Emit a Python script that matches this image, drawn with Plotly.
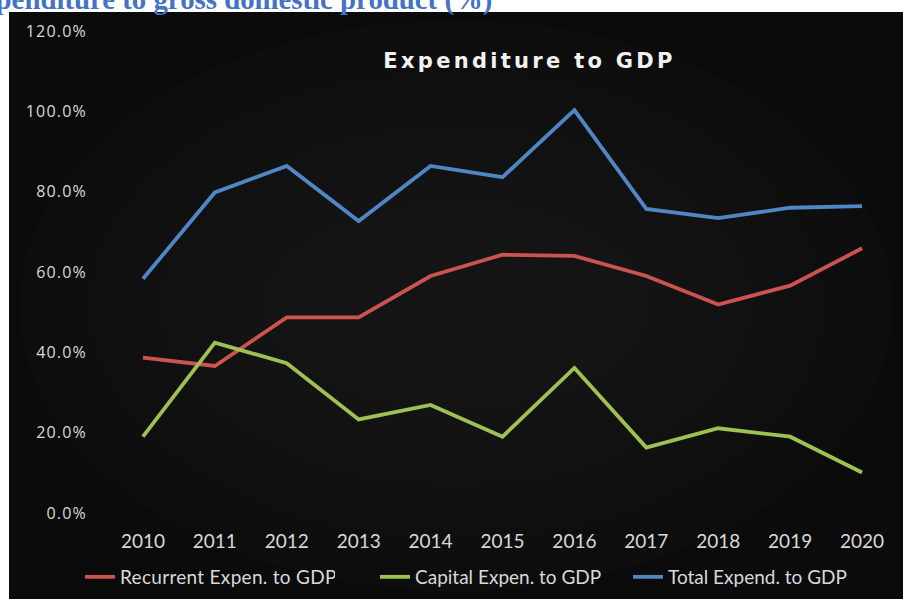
import plotly.graph_objects as go

# ---- data ----
years = ["2010", "2011", "2012", "2013", "2014", "2015", "2016", "2017", "2018", "2019", "2020"]
recurrent = [38.7, 36.6, 48.7, 48.7, 59.0, 64.3, 64.0, 59.0, 51.9, 56.6, 65.9]
capital = [19.0, 42.4, 37.3, 23.3, 26.9, 19.0, 36.1, 16.3, 21.1, 19.0, 10.1]
total = [58.3, 79.8, 86.4, 72.7, 86.4, 83.6, 100.3, 75.7, 73.4, 76.0, 76.4]
y_ticks = [0, 20, 40, 60, 80, 100, 120]
y_tick_text = ["0.0%", "20.0%", "40.0%", "60.0%", "80.0%", "100.0%", "120.0%"]

# ---- page geometry (pixels) ----
W, H = 903, 599
L, R, T, B = 107, 5, 31, 86
pw, ph = W - L - R, H - T - B


def px_x(x):
    return (x - L) / pw


def px_y(y):
    return (H - B - y) / ph


TICK_COLOR = "#D9D9D9"
CHART_TITLE = "Expenditure to GDP"

fig = go.Figure()
fig.add_trace(go.Scatter(x=years, y=recurrent, mode="lines", name="Recurrent Expen. to GDP",
                         line=dict(color="#CD5350", width=3.8), legend="legend"))
fig.add_trace(go.Scatter(x=years, y=capital, mode="lines", name="Capital Expen. to GDP",
                         line=dict(color="#9DC152", width=3.8), legend="legend2"))
fig.add_trace(go.Scatter(x=years, y=total, mode="lines", name="Total Expend. to GDP",
                         line=dict(color="#4F86C6", width=3.8), legend="legend3"))

# dark chart panel with a softly lighter centre
panel_x0, panel_x1, panel_y0, panel_y1 = 9, W + 2, 12, H + 2
shapes = [dict(type="rect", xref="paper", yref="paper",
               x0=px_x(panel_x0), x1=px_x(panel_x1), y0=px_y(panel_y1), y1=px_y(panel_y0),
               fillcolor="#0b0b0b", line=dict(width=0), layer="below")]
for k in range(8):
    dx, dy = 10 + 35 * k, 8 + 26 * k
    shapes.append(dict(type="circle", xref="paper", yref="paper",
                       x0=px_x(panel_x0 + dx), x1=px_x(W - dx),
                       y0=px_y(H - dy), y1=px_y(panel_y0 + dy),
                       fillcolor="#262626", opacity=0.08, line=dict(width=0), layer="below"))

annotations = [
    dict(text=CHART_TITLE, xref="paper", yref="paper",
         x=px_x(529), y=px_y(61), xanchor="center", yanchor="middle", showarrow=False,
         font=dict(family="DejaVu Sans", size=21, color="#F2F2F2", weight="bold")),
    dict(text="Expenditure to gross domestic product (%)", xref="paper", yref="paper",
         x=px_x(494), y=px_y(18), xanchor="right", yanchor="bottom", showarrow=False,
         font=dict(family="Liberation Serif", size=28.8, color="#4472C4", weight="bold")),
]


def legend_at(x_px):
    return dict(orientation="h", x=px_x(x_px), xanchor="left", y=px_y(577), yanchor="middle",
                font=dict(family="Lato", size=19, color=TICK_COLOR),
                bgcolor="rgba(0,0,0,0)")


fig.update_layout(
    width=W, height=H,
    margin=dict(l=L, r=R, t=T, b=B, autoexpand=False),
    paper_bgcolor="white",
    plot_bgcolor="rgba(0,0,0,0)",
    shapes=shapes,
    annotations=annotations,
    showlegend=True,
    legend=legend_at(80),
    legend2=legend_at(375),
    legend3=legend_at(628),
    xaxis=dict(type="category", range=[-0.5, 10.5], showgrid=False, zeroline=False,
               showline=False, ticks="", ticklabelstandoff=15,
               tickfont=dict(family="Lato", size=19, color=TICK_COLOR)),
    yaxis=dict(range=[0, 120], tickvals=y_ticks, ticktext=y_tick_text, showgrid=False,
               zeroline=False, showline=False, ticks="", ticklabelstandoff=19,
               tickfont=dict(family="Open Sans", size=16, color=TICK_COLOR)),
)

# widen the letter spacing of the chart title and the value labels
post = """
var gd = document.getElementById('{plot_id}');
function spacing() {
  gd.querySelectorAll('.annotation-text').forEach(function (t) {
    if (t.textContent === '%s') { t.style.letterSpacing = '3.3px'; }
  });
  gd.querySelectorAll('.ytick text').forEach(function (t) { t.style.letterSpacing = '1.2px'; });
  gd.querySelectorAll('.legendtext').forEach(function (t) { t.style.letterSpacing = '0.3px'; });
}
spacing();
gd.on('plotly_afterplot', spacing);
""" % CHART_TITLE

fig.write_html("out.html", post_script=post)
